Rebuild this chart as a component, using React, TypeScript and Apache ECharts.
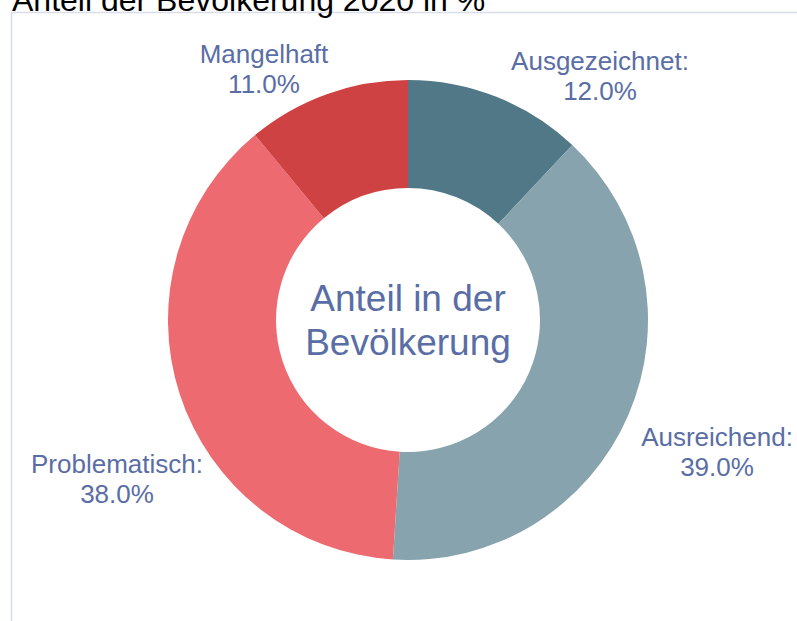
import React, { useEffect, useRef } from "react";
import * as echarts from "echarts";

const TITLE = "Anteil der Bevölkerung 2020 in %";
const CENTER_TEXT = "Anteil in der\nBevölkerung";
const CATEGORIES = ["Ausgezeichnet", "Ausreichend", "Problematisch", "Mangelhaft"];
const VALUES = [12, 39, 38, 11];
const LABEL_SUFFIX = [":", ":", ":", ""];
const COLORS = ["#507886", "#86a3ae", "#ec6a70", "#cf4243"];

const CX = 408;
const CY = 320;
// label block centre offsets from pie centre (styling)
const LABEL_OFFSETS: [number, number][] = [
  [192, -244],
  [309, 132],
  [-291, 159],
  [-144, -251],
];

const TEXT_COLOR = "#5a6ea6";
const FONT = "'Liberation Sans', Arial, sans-serif";

export default function App() {
  const ref = useRef<HTMLDivElement>(null);
  useEffect(() => {
    if (!ref.current) return;
    const chart = echarts.init(ref.current, undefined, { renderer: "svg" });
    const total = VALUES.reduce((a, b) => a + b, 0);
    chart.setOption({
      animation: false,
      backgroundColor: "#ffffff",
      title: {
        text: TITLE,
        left: 7,
        top: -21,
        textStyle: {
          color: "#000000",
          fontSize: 32,
          fontWeight: "normal",
          fontFamily: FONT,
        },
      },
      graphic: [
        {
          type: "rect",
          shape: { x: 11.5, y: 12.5, width: 2000, height: 2000 },
          style: { fill: "none", stroke: "#d9dde9", lineWidth: 1.5 },
          silent: true,
        },
        {
          type: "text",
          x: CX,
          y: CY,
          style: {
            text: CENTER_TEXT,
            fill: TEXT_COLOR,
            font: `37px ${FONT}`,
            lineHeight: 44,
            align: "center",
            verticalAlign: "middle",
          },
          silent: true,
        },
      ],
      series: [
        {
          type: "pie",
          center: [CX, CY],
          radius: [132, 240],
          startAngle: 90,
          clockwise: true,
          avoidLabelOverlap: false,
          data: CATEGORIES.map((name, i) => ({
            name,
            value: VALUES[i],
            itemStyle: { color: COLORS[i] },
          })),
          label: {
            show: true,
            position: "outside",
            formatter: (p: any) =>
              `${p.name}${LABEL_SUFFIX[p.dataIndex]}\n${((p.value / total) * 100).toFixed(1)}%`,
            color: TEXT_COLOR,
            fontSize: 26,
            lineHeight: 30,
            fontFamily: FONT,
            align: "center",
          },
          labelLine: { show: false },
          labelLayout: (params: any) => {
            const off = LABEL_OFFSETS[params.dataIndex];
            return {
              x: CX + off[0],
              y: CY + off[1],
              align: "center",
              verticalAlign: "middle",
            };
          },
          emphasis: { disabled: true },
        },
      ],
    });
    return () => chart.dispose();
  }, []);
  return (
    <div
      ref={ref}
      style={{ position: "absolute", left: 0, top: 0, width: 797, height: 621 }}
    />
  );
}
